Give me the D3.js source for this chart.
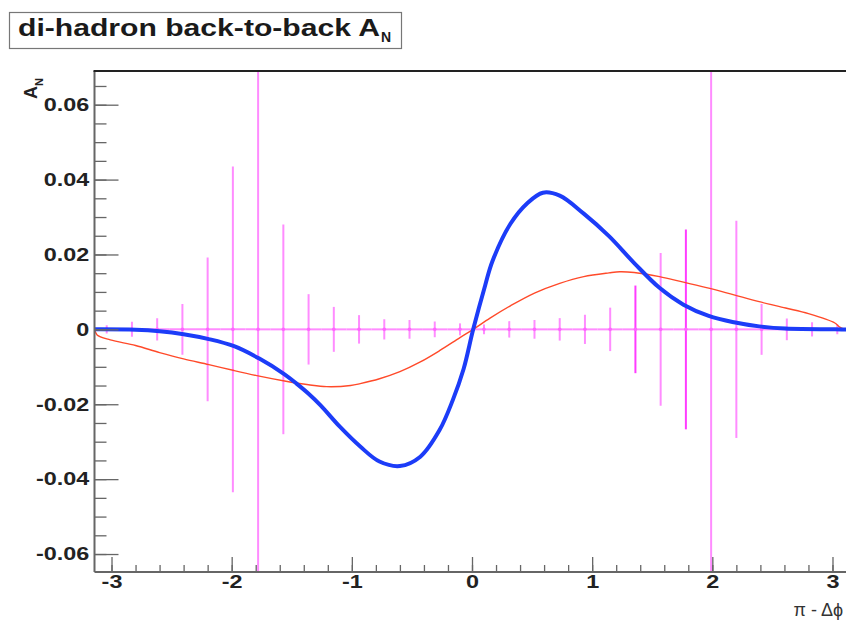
<!DOCTYPE html>
<html>
<head>
<meta charset="utf-8">
<script src="https://cdn.jsdelivr.net/npm/d3@7"></script>
<style>
  html, body { margin: 0; padding: 0; background: #fff; }
  svg { display: block; }
  text { font-family: "Liberation Sans", Arial, Helvetica, sans-serif; }
</style>
</head>
<body>
<svg id="chart" width="846" height="624"></svg>
<script>
// --- data --------------------------------------------------------------
// 30 bins over [-pi, pi], all points sit on zero
const binCenters = [-3.04, -2.83, -2.62, -2.41, -2.20, -1.99, -1.78, -1.57, -1.36, -1.15,
                    -0.94, -0.73, -0.52, -0.31, -0.10, 0.10, 0.31, 0.52, 0.73, 0.94,
                    1.15, 1.36, 1.57, 1.78, 1.99, 2.20, 2.41, 2.62, 2.83, 3.04];
const asymValues = [0, 0, 0, 0, 0, 0, 0, 0, 0, 0,
                    0, 0, 0, 0, 0, 0, 0, 0, 0, 0,
                    0, 0, 0, 0, 0, 0, 0, 0, 0, 0];
const asymErrors = [0.0011, 0.0020, 0.0030, 0.0068, 0.0192, 0.0435, 0.2000, 0.0280, 0.0094, 0.0060,
                    0.0038, 0.0027, 0.0025, 0.0021, 0.0016, 0.0013, 0.0022, 0.0025, 0.0030, 0.0039,
                    0.0058, 0.0117, 0.0204, 0.0267, 0.2000, 0.0290, 0.0068, 0.0029, 0.0019, 0.0013];
const binHalfWidth = 0.105;

// thick blue curve
const blueX = [-3.14, -2.80, -2.60, -2.40, -2.19, -1.98, -1.77, -1.56, -1.46, -1.36, -1.26, -1.10, -0.93,
               -0.77, -0.60, -0.43, -0.27, -0.16, -0.07, 0.01, 0.11, 0.17, 0.32, 0.46, 0.59,
               0.73, 0.93, 1.14, 1.35, 1.56, 1.76, 1.97, 2.18, 2.39, 2.61, 3.02, 3.14];
const blueY = [0, -0.0001, -0.0005, -0.0013, -0.0026, -0.0045, -0.0078, -0.0120, -0.0145, -0.0172, -0.0203, -0.0260, -0.0313,
               -0.0353, -0.0365, -0.0340, -0.0269, -0.0189, -0.0106, 0, 0.0118, 0.0182, 0.0282, 0.0337, 0.0365,
               0.0357, 0.0309, 0.0249, 0.0177, 0.0111, 0.0066, 0.0036, 0.0019, 0.0008, 0.0002, 0, 0];

// thin red curve
const redX = [-3.14, -3.12, -3.01, -2.80, -2.60, -2.40, -2.19, -1.98, -1.77, -1.56, -1.36, -1.21,
              -1.01, -0.93, -0.77, -0.60, -0.43, -0.27, -0.10, 0.01, 0.15, 0.32, 0.52, 0.73,
              0.93, 1.14, 1.23, 1.35, 1.56, 1.76, 1.97, 2.18, 2.39, 2.61, 2.80, 3.02, 3.06, 3.10];
const redY = [0, -0.0015, -0.0028, -0.0043, -0.0062, -0.0079, -0.0094, -0.0110, -0.0125, -0.0138, -0.0148, -0.0153,
              -0.0150, -0.0145, -0.0132, -0.0113, -0.0087, -0.0057, -0.0022, 0, 0.0030, 0.0063, 0.0097, 0.0123,
              0.0141, 0.0151, 0.0154, 0.0152, 0.0141, 0.0126, 0.0110, 0.0092, 0.0074, 0.0057, 0.0042, 0.0017, 0.0006, 0];

const yMajorTicks = [-0.06, -0.04, -0.02, 0, 0.02, 0.04, 0.06];
const xMajorTicks = [-3, -2, -1, 0, 1, 2, 3];

// --- layout ---------------------------------------------------------------
const frame = { left: 94.5, right: 849.5, top: 71, bottom: 572 };
const STRETCH = 1.3;             // reference text is horizontally stretched
const strongBars = new Set([21, 23]);

const svg = d3.select('#chart');
svg.append('rect').attr('width', 846).attr('height', 624).attr('fill', '#fff');

const x = d3.scaleLinear().domain([-Math.PI, Math.PI]).range([frame.left, frame.right]);
const y = d3.scaleLinear().domain([-0.0648, 0.069]).range([frame.bottom, frame.top]);

svg.append('clipPath').attr('id', 'frame-clip')
  .append('rect')
  .attr('x', frame.left).attr('y', frame.top)
  .attr('width', frame.right - frame.left).attr('height', frame.bottom - frame.top);

const plot = svg.append('g').attr('clip-path', 'url(#frame-clip)');

// error bars (horizontal bin width + vertical errors)
const pts = binCenters.map((c, i) => ({ i, c, v: asymValues[i], e: asymErrors[i] }));
plot.append('g').selectAll('line').data(pts).enter().append('line')
  .attr('x1', (d) => x(d.c - binHalfWidth)).attr('x2', (d) => x(d.c + binHalfWidth))
  .attr('y1', (d) => y(d.v)).attr('y2', (d) => y(d.v))
  .attr('stroke', '#ff8cff').attr('stroke-width', 2);
plot.append('g').selectAll('line').data(pts).enter().append('line')
  .attr('x1', (d) => x(d.c)).attr('x2', (d) => x(d.c))
  .attr('y1', (d) => y(d.v - d.e)).attr('y2', (d) => y(d.v + d.e))
  .attr('stroke', (d) => strongBars.has(d.i) ? '#ff3cff' : '#ff8cff')
  .attr('stroke-width', 2);
plot.append('g').selectAll('circle').data(pts).enter().append('circle')
  .attr('cx', (d) => x(d.c)).attr('cy', (d) => y(d.v)).attr('r', 1.8)
  .attr('fill', '#ff66ff');

// curves
const line = d3.line().x((d) => x(d[0])).y((d) => y(d[1])).curve(d3.curveCatmullRom.alpha(0.5));
plot.append('path')
  .datum(redX.map((v, i) => [v, redY[i]]))
  .attr('d', line).attr('fill', 'none')
  .attr('stroke', '#ff4a2a').attr('stroke-width', 1.4);
plot.append('path')
  .datum(blueX.map((v, i) => [v, blueY[i]]))
  .attr('d', line).attr('fill', 'none')
  .attr('stroke', '#1c3cf8').attr('stroke-width', 4)
  .attr('stroke-linejoin', 'round');

// --- axes -----------------------------------------------------------------
const axisColor = '#666';
const fmtY = (d) => (d === 0 ? '0' : d.toFixed(2));

// y minor ticks
svg.append('g').attr('transform', `translate(${frame.left},0)`)
  .call(d3.axisLeft(y).tickValues(d3.range(-0.06, 0.0651, 0.005)).tickSize(-12).tickFormat(''))
  .call((g) => g.select('.domain').remove())
  .call((g) => g.selectAll('line').attr('stroke', axisColor).attr('stroke-width', 1.3));
// y major ticks + labels
svg.append('g').attr('transform', `translate(${frame.left},0)`)
  .call(d3.axisLeft(y).tickValues(yMajorTicks).tickSize(-24).tickPadding(4).tickFormat(fmtY))
  .call((g) => g.select('.domain').remove())
  .call((g) => g.selectAll('line').attr('stroke', axisColor).attr('stroke-width', 1.3))
  .call((g) => g.selectAll('text')
    .attr('font-size', 18).attr('font-weight', 'bold').attr('fill', '#222')
    .attr('font-family', '"Liberation Sans", Arial, sans-serif')
    .attr('transform', `scale(${STRETCH},1)`));

// x minor ticks
svg.append('g').attr('transform', `translate(0,${frame.bottom})`)
  .call(d3.axisBottom(x).tickValues(d3.range(-3, 3.01, 0.2)).tickSize(-7).tickFormat(''))
  .call((g) => g.select('.domain').remove())
  .call((g) => g.selectAll('line').attr('stroke', axisColor).attr('stroke-width', 1.3));
// x major ticks + labels
svg.append('g').attr('transform', `translate(0,${frame.bottom})`)
  .call(d3.axisBottom(x).tickValues(xMajorTicks).tickSize(-15).tickPadding(10).tickFormat((d) => String(d)))
  .call((g) => g.select('.domain').remove())
  .call((g) => g.selectAll('line').attr('stroke', axisColor).attr('stroke-width', 1.3))
  .call((g) => g.selectAll('text')
    .attr('font-size', 18).attr('font-weight', 'bold').attr('fill', '#222')
    .attr('font-family', '"Liberation Sans", Arial, sans-serif')
    .attr('dy', '0.35em')
    .attr('transform', `scale(${STRETCH},1)`));

// frame lines
svg.append('line').attr('x1', frame.left).attr('x2', frame.left)
  .attr('y1', frame.top).attr('y2', frame.bottom)
  .attr('stroke', axisColor).attr('stroke-width', 2);
svg.append('line').attr('x1', frame.left).attr('x2', frame.right)
  .attr('y1', frame.bottom).attr('y2', frame.bottom)
  .attr('stroke', axisColor).attr('stroke-width', 2);
svg.append('line').attr('x1', frame.left - 1).attr('x2', frame.right)
  .attr('y1', frame.top).attr('y2', frame.top)
  .attr('stroke', '#222').attr('stroke-width', 2.2);

// axis titles
const yTitle = svg.append('text')
  .attr('transform', 'translate(37,99) rotate(-90)')
  .attr('font-weight', 'bold').attr('fill', '#222');
yTitle.append('tspan').attr('font-size', 18).text('A');
yTitle.append('tspan').attr('font-size', 11).attr('dy', 6).text('N');

svg.append('text')
  .attr('x', 843).attr('y', 616)
  .attr('text-anchor', 'end')
  .attr('font-family', '"Liberation Serif", "Times New Roman", serif')
  .attr('font-size', 18).attr('fill', '#333')
  .text('π - Δϕ');

// title box
svg.append('rect')
  .attr('x', 9.5).attr('y', 12.5).attr('width', 392).attr('height', 36)
  .attr('fill', '#fff').attr('stroke', '#777').attr('stroke-width', 1.2);
svg.append('text')
  .attr('x', 18).attr('y', 36)
  .attr('font-size', 23).attr('font-weight', 'bold').attr('fill', '#1a1a1a')
  .attr('textLength', 362).attr('lengthAdjust', 'spacingAndGlyphs')
  .text('di-hadron back-to-back A');
svg.append('text')
  .attr('x', 381).attr('y', 42)
  .attr('font-size', 14).attr('font-weight', 'bold').attr('fill', '#1a1a1a')
  .text('N');
</script>
</body>
</html>
